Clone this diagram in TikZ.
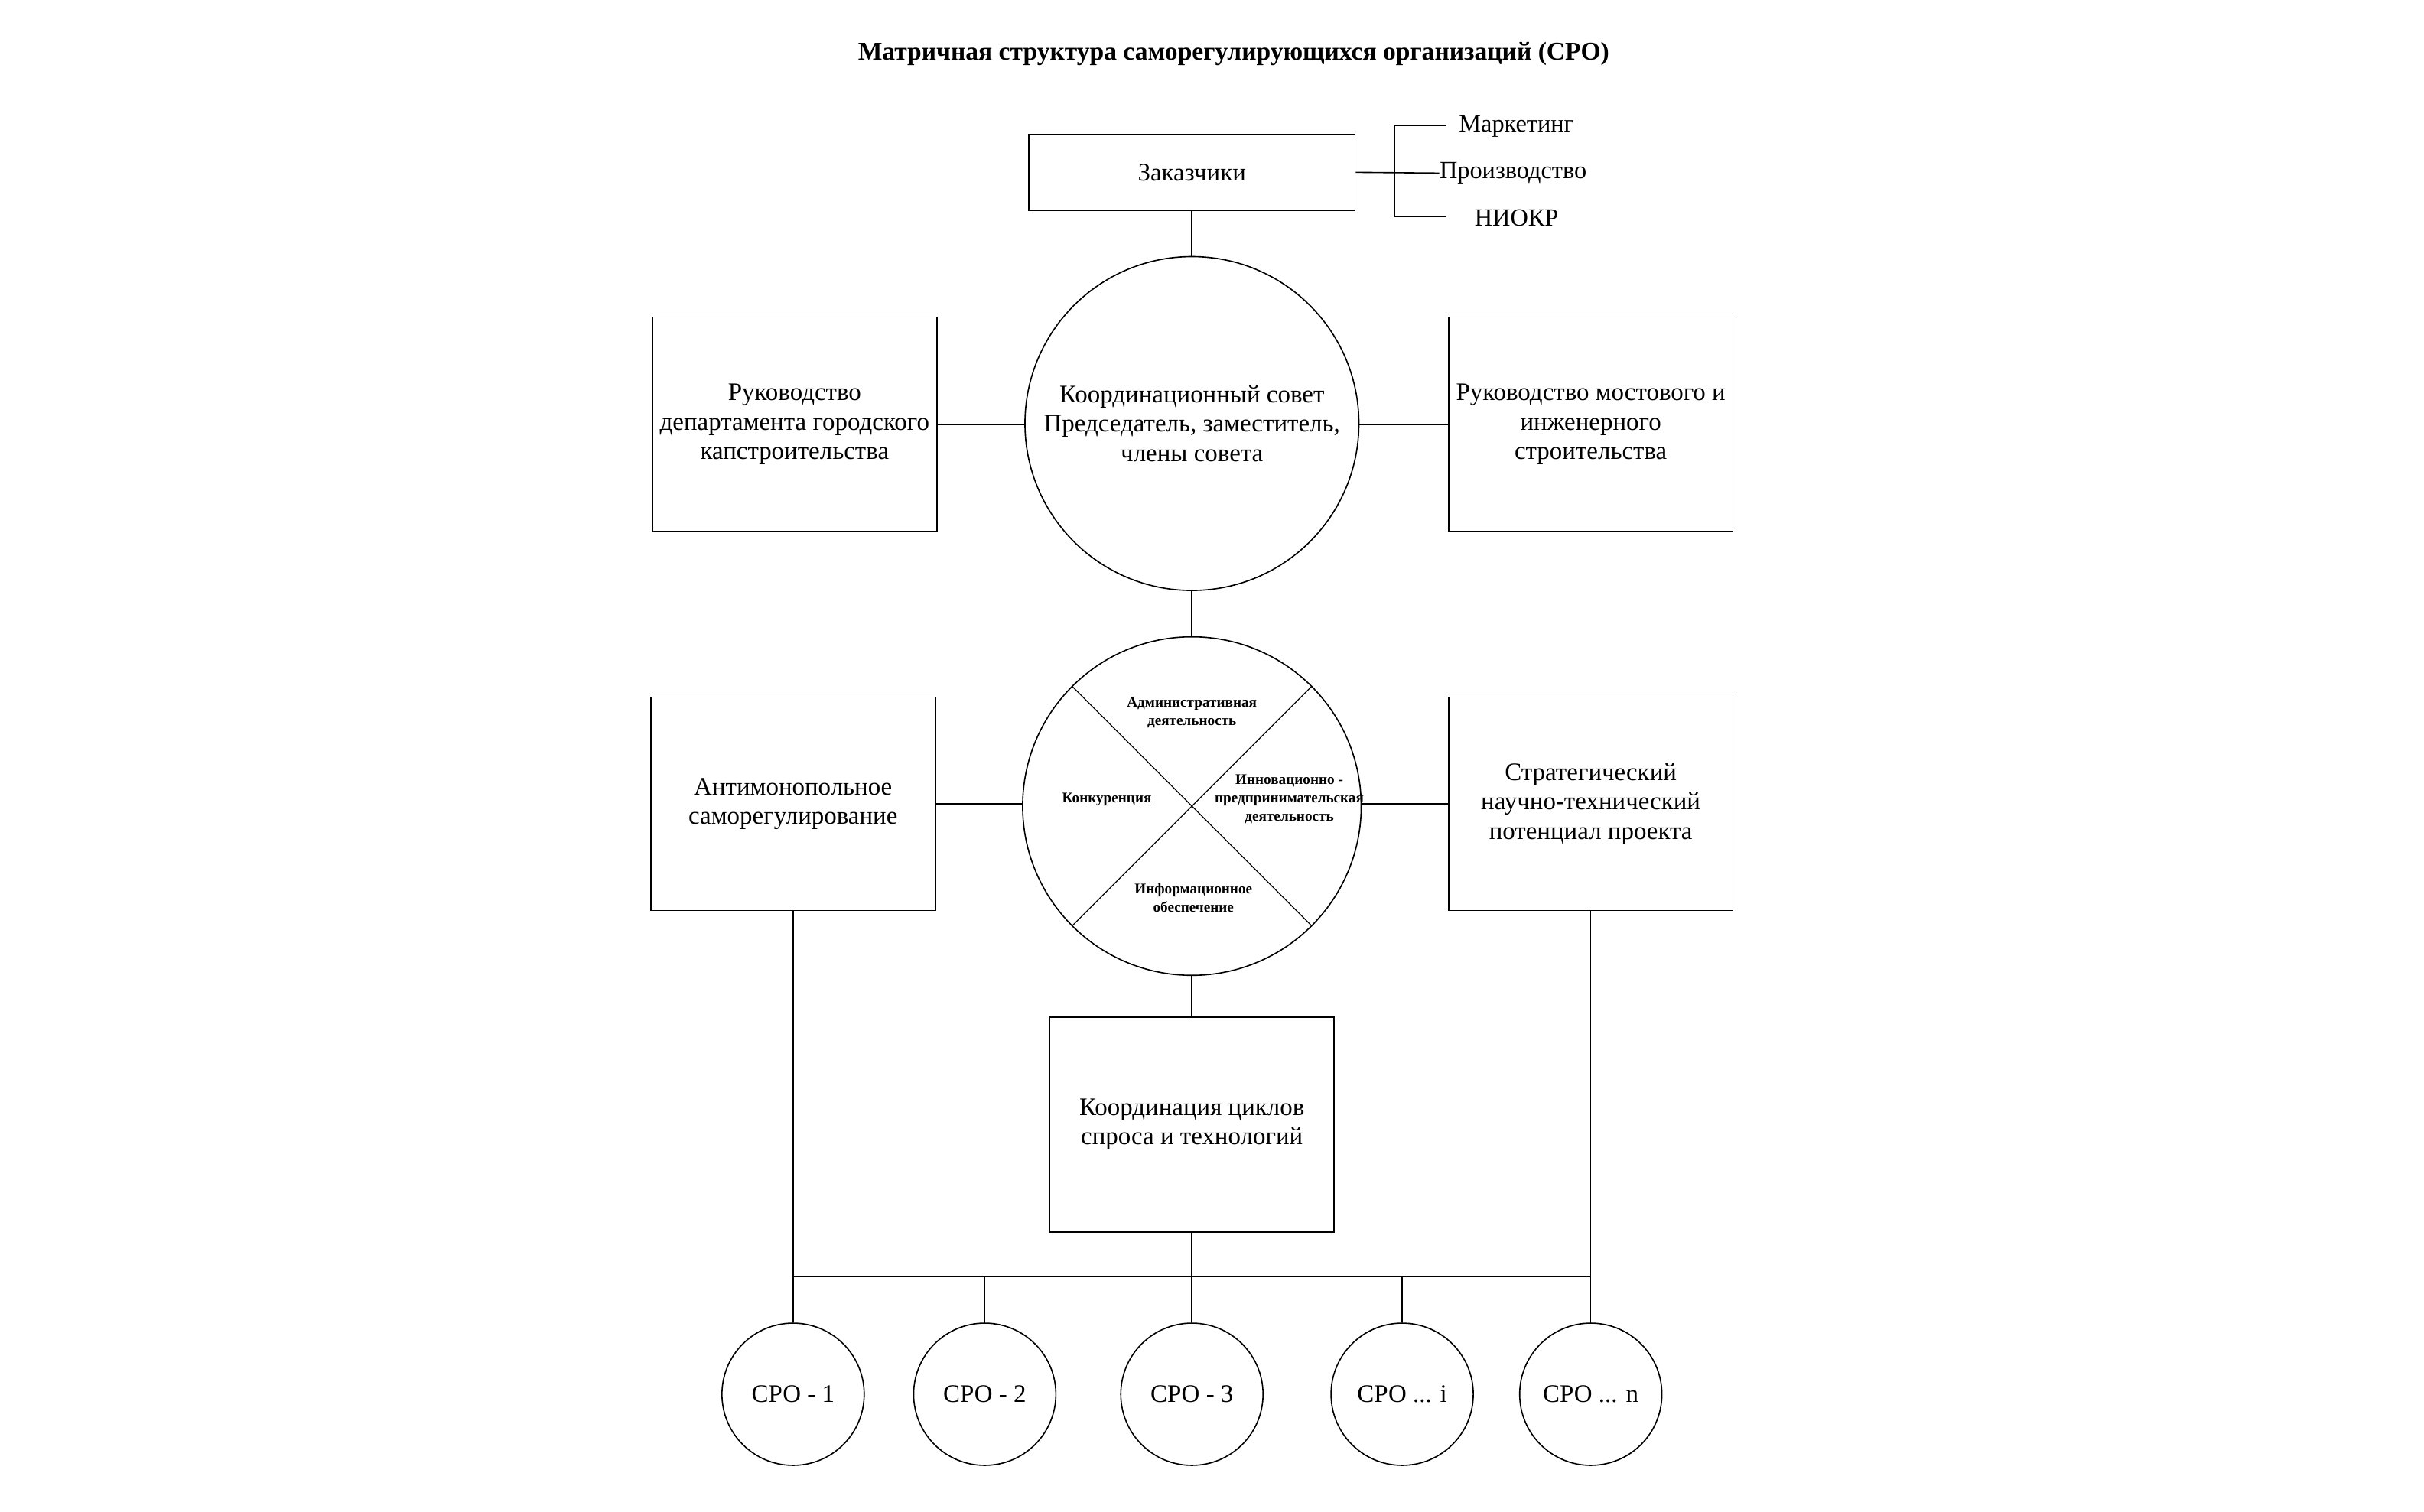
\documentclass[tikz,border=0pt]{standalone}
\usepackage{fontspec}
\setmainfont{Liberation Serif}
\begin{document}
\begin{tikzpicture}[x=1pt,y=-1pt,
  ln/.style={draw=black,line width=0.8pt},
  txt/.style={font=\fontsize{16}{19}\selectfont,align=center,inner sep=0pt},
  boxnode/.style={ln,rectangle,minimum width=184pt,minimum height=139pt,align=center,font=\fontsize{16.3}{19}\selectfont,inner sep=1pt},
  bigcirc/.style={ln,circle,inner sep=0pt,align=center,font=\fontsize{16.3}{19}\selectfont},
  sect/.style={font=\bfseries\fontsize{9.5}{12}\selectfont,align=center,inner sep=0pt},
  sro/.style={ln,circle,minimum size=92pt,inner sep=0pt,font=\fontsize{16.3}{19}\selectfont}]
\useasboundingbox (0,0) rectangle (1568,977.8);
\fill[white] (0,0) rectangle (1568,977.8);

\node[font=\bfseries\fontsize{16.6}{19}\selectfont,inner sep=0pt] (title) at (798,35) {Матричная структура саморегулирующихся организаций (СРО)};

% top
\node[ln,rectangle,minimum width=211pt,minimum height=49pt,font=\fontsize{16.3}{19}\selectfont] (zak) at (771,111.5) {Заказчики};
\node[txt,anchor=west] (prod) at (931,112) {Производство};
\node[txt] (mark) at (981,82) {Маркетинг};
\node[txt] (niokr) at (981,141) {НИОКР};
\coordinate (b1) at (902,81);
\coordinate (b3) at (902,140);
\coordinate (b1e) at (935,81);
\coordinate (b3e) at (935,140);
\draw[ln] (zak.east) -- (prod.west);
\draw[ln] (b1e) -- (b1) -- (b3) -- (b3e);

% council row
\node[bigcirc,minimum size=216pt] (council) at (771,274) {Координационный совет\\Председатель, заместитель,\\члены совета};
\node[boxnode] (lb1) at (514,274.5) {Руководство\\департамента городского\\капстроительства};
\node[boxnode] (rb1) at (1029,274.5) {Руководство мостового и\\инженерного\\строительства};
\draw[ln] (zak.south) -- (council.north);
\draw[ln] (lb1.east) -- (lb1.east -| council.west);
\draw[ln] (rb1.west) -- (rb1.west -| council.east);

% second row
\node[bigcirc,minimum size=219pt] (wheel) at (771,521.5) {};
\draw[ln] (council.south) -- (wheel.north);
\draw[ln,line width=0.6pt] (wheel.135) -- (wheel.-45);
\draw[ln,line width=0.6pt] (wheel.45) -- (wheel.-135);
\node[sect] (s1) at (771,461) {Административная\\деятельность};
\node[sect] (s2) at (716,517) {Конкуренция};
\node[sect] (s3) at (834,517) {Инновационно -\\предпринимательская\\деятельность};
\node[sect] (s4) at (772,581) {Информационное\\обеспечение};

\node[boxnode,minimum height=138pt] (lb2) at (513,520) {Антимонопольное\\саморегулирование};
\node[boxnode,minimum height=138pt] (rb2) at (1029,520) {Стратегический\\научно-технический\\потенциал проекта};
\draw[ln] (lb2.east) -- (lb2.east -| wheel.west);
\draw[ln] (rb2.west) -- (rb2.west -| wheel.east);

% coordination box
\node[boxnode] (coord) at (771,727.5) {Координация циклов\\спроса и технологий};
\draw[ln] (wheel.south) -- (coord.north);

% SRO
\node[sro] (c1) at (513,902) {СРО - 1};
\node[sro] (c2) at (637,902) {СРО - 2};
\node[sro] (c3) at (771,902) {СРО - 3};
\node[sro] (c4) at (907,902) {СРО ... i};
\node[sro] (c5) at (1029,902) {СРО ... n};
\coordinate (busL) at (513,826);
\coordinate (busR) at (1029,826);
\draw[ln] (busL) -- (busR);
\draw[ln] (lb2.south) -- (c1.north);
\draw[ln] (rb2.south) -- (c5.north);
\draw[ln] (coord.south) -- (c3.north);
\draw[ln] (c2.north) -- (c2.north |- busL);
\draw[ln] (c4.north) -- (c4.north |- busL);
\end{tikzpicture}
\end{document}
